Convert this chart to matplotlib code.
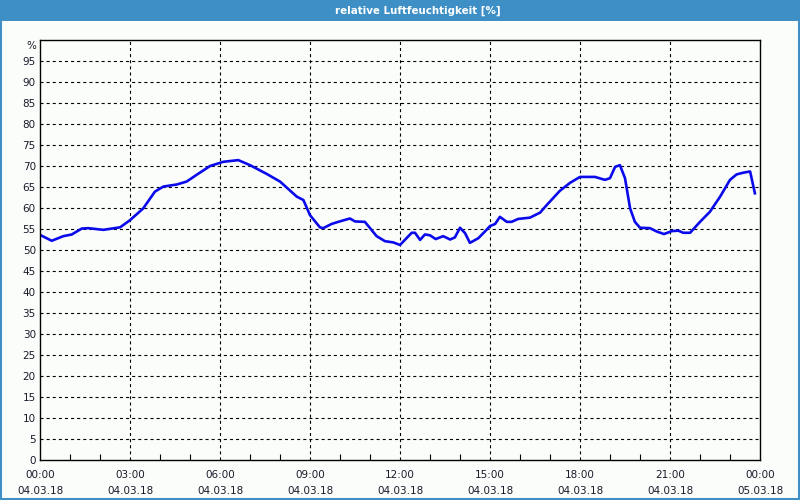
import matplotlib
matplotlib.use("Agg")
import matplotlib.pyplot as plt
from matplotlib.patches import Rectangle
from matplotlib.ticker import MultipleLocator
from matplotlib.transforms import ScaledTranslation

# --- data (hours since 04.03.18 00:00, relative humidity %) ---
hours = [0.0, 0.39, 0.78, 1.06, 1.39, 1.61, 2.11, 2.67, 3.0, 3.44, 3.83, 4.11, 4.56,
         4.89, 5.22, 5.67, 6.11, 6.61, 7.0, 7.56, 8.0, 8.56, 8.78, 9.0, 9.33, 9.44,
         9.72, 9.94, 10.33, 10.5, 10.83, 11.22, 11.5, 11.78, 12.0, 12.39, 12.5, 12.67,
         12.83, 13.0, 13.19, 13.44, 13.67, 13.83, 14.0, 14.17, 14.33, 14.61, 14.83,
         15.0, 15.17, 15.33, 15.56, 15.72, 15.94, 16.33, 16.67, 16.89, 17.33, 17.67,
         18.0, 18.5, 18.83, 19.0, 19.17, 19.33, 19.5, 19.67, 19.83, 20.0, 20.33,
         20.56, 20.8, 21.06, 21.28, 21.44, 21.67, 22.0, 22.33, 22.67, 23.0, 23.22,
         23.44, 23.67, 23.83]
humidity = [53.6, 52.2, 53.3, 53.7, 55.1, 55.2, 54.8, 55.4, 57.1, 59.9, 63.9, 65.1, 65.6,
            66.3, 67.9, 70.0, 71.0, 71.4, 70.2, 68.1, 66.3, 62.7, 61.9, 58.3, 55.4, 55.2,
            56.2, 56.7, 57.5, 56.8, 56.7, 53.3, 52.1, 51.8, 51.2, 54.1, 54.1, 52.4,
            53.7, 53.5, 52.6, 53.3, 52.5, 53.0, 55.3, 54.0, 51.7, 52.8, 54.4,
            55.7, 56.2, 57.9, 56.7, 56.7, 57.4, 57.7, 58.9, 60.7, 64.1, 66.0,
            67.4, 67.4, 66.7, 67.1, 69.8, 70.2, 67.1, 59.9, 56.7, 55.3, 55.2,
            54.4, 53.8, 54.5, 54.6, 54.1, 54.1, 56.7, 59.1, 62.7, 66.7, 68.0,
            68.4, 68.7, 63.5]

x_tick_hours = [0, 3, 6, 9, 12, 15, 18, 21, 24]
x_tick_labels = ["00:00\n04.03.18", "03:00\n04.03.18", "06:00\n04.03.18",
                 "09:00\n04.03.18", "12:00\n04.03.18", "15:00\n04.03.18",
                 "18:00\n04.03.18", "21:00\n04.03.18", "00:00\n05.03.18"]
y_ticks = list(range(0, 101, 5))
y_tick_labels = [str(v) for v in range(0, 100, 5)] + ["%"]
title = "relative Luftfeuchtigkeit [%]"

plt.rcParams['lines.scale_dashes'] = False

W, H = 800, 500
fig = plt.figure(figsize=(8, 5), dpi=100)
fig.patch.set_facecolor('#fbfdfb')

# window border and title bar
fig.patches.append(Rectangle((0.5 / W, 1.5 / H), (W - 1.5) / W, (H - 2.5) / H,
                             transform=fig.transFigure, fill=False,
                             edgecolor='#3d8fc6', linewidth=1.5))
fig.patches.append(Rectangle((0, 1 - 21 / H), 1, 21 / H, transform=fig.transFigure,
                             facecolor='#3d8fc6', edgecolor='none'))
fig.text(417.5 / W, 1 - 10.5 / H, title, color='white', fontsize=7.4, fontweight='bold',
         ha='center', va='center')

ax = fig.add_axes([40 / W, 40 / H, 720 / W, 420 / H])
ax.set_facecolor('#fbfdfb')
ax.plot(hours, humidity, color='#0a0aeb', linewidth=1.9, solid_joinstyle='round')

ax.set_xlim(0, 24)
ax.set_ylim(0, 100)
ax.set_xticks(x_tick_hours)
ax.set_xticklabels(x_tick_labels, fontsize=7.5, color='#1a1a2a', linespacing=1.75)
ax.xaxis.set_minor_locator(MultipleLocator(1))
ax.set_yticks(y_ticks)
ax.set_yticklabels(y_tick_labels, fontsize=7.5, color='#1a1a2a')

ax.tick_params(axis='x', which='major', direction='in', length=0, pad=7)
ax.tick_params(axis='x', which='minor', direction='in', length=4, width=0.8, color='black')
ax.tick_params(axis='y', which='major', direction='in', length=0, pad=3)

# "%" label sits slightly below the top edge
pct = ax.get_yticklabels()[-1]
pct.set_transform(pct.get_transform() + ScaledTranslation(0, -5 / 100, fig.dpi_scale_trans))

for v in y_ticks[1:-1]:
    ax.axhline(v, color='black', linewidth=0.8, linestyle=(0, (2.2, 2.2)), zorder=0.5)
for h in x_tick_hours[1:-1]:
    ax.axvline(h, color='black', linewidth=0.8, linestyle=(0, (2.2, 2.2)), zorder=0.5)

for s in ax.spines.values():
    s.set_color('black')
    s.set_linewidth(1.0)

fig.savefig('out.png', dpi=100, facecolor=fig.get_facecolor())
